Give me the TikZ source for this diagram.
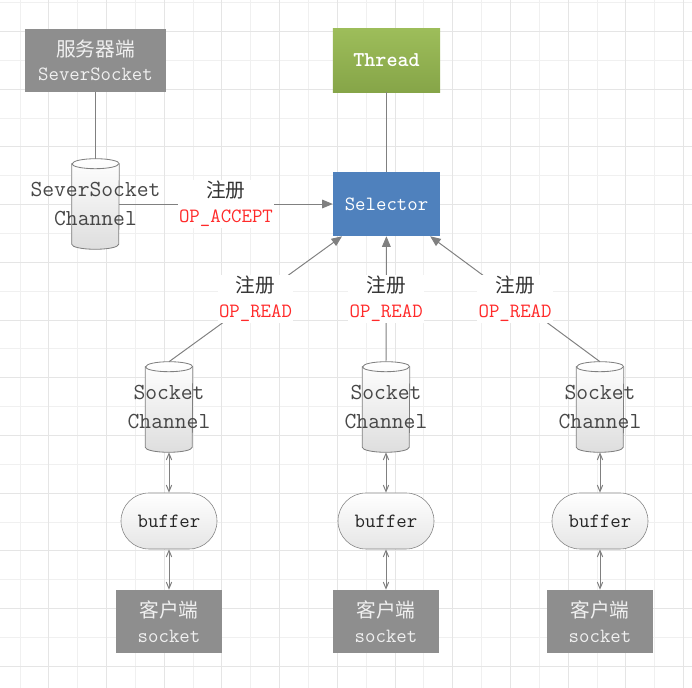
\documentclass[tikz,border=0pt]{standalone}
\usepackage{fontspec}
\newfontfamily\cjk{Noto Sans CJK SC}
\newfontfamily\ttbold{lmmonolt10-bold.otf}
\usetikzlibrary{shapes.geometric, arrows, positioning, calc}
\definecolor{boxgray}{HTML}{8E8E8E}
\definecolor{boxtext}{HTML}{F0F0F0}
\definecolor{linegray}{HTML}{808080}
\definecolor{threadtop}{HTML}{9DBD5A}
\definecolor{threadbot}{HTML}{86A548}
\definecolor{selblue}{HTML}{4F81BD}
\definecolor{opred}{HTML}{FF2A2A}
\begin{document}
\begin{tikzpicture}[x=0.025cm, y=-0.025cm,
  font=\ttfamily\fontsize{14.4}{17.5}\selectfont,
  gridminor/.style={draw=black!6, line width=0.7pt},
  gridmajor/.style={draw=black!10, line width=0.7pt},
  graybox/.style={rectangle, fill=boxgray, text=boxtext, minimum width=2.65cm, minimum height=1.575cm, align=center},
  chan/.style={rectangle, minimum width=1.175cm, minimum height=2cm, inner sep=0pt},
  cylbody/.style={draw=linegray, line width=0.6pt, top color=white, bottom color=black!13},
  cyltext/.style={text=black!72, align=center, font=\ttfamily\fontsize{16.3}{20}\selectfont},
  bufbox/.style={rectangle, rounded corners=0.7cm, draw=linegray, top color=white, bottom color=black!10, minimum width=2.4cm, minimum height=1.4cm, text=black!85},
  reg/.style={fill=white, inner sep=1pt, align=center, text=black!80},
  flow/.style={draw=linegray, line width=0.7pt, -triangle 45},
  link/.style={draw=linegray, line width=0.7pt, angle 45-angle 45},
  plain/.style={draw=linegray, line width=0.7pt}]
\useasboundingbox (0,0) rectangle (692,688);
% background grid
\foreach \i in {0,...,23} {
  \draw[gridminor] ({20+28.85*\i},0) -- ({20+28.85*\i},688);
  \draw[gridminor] (0,{2.7+28.85*\i}) -- (692,{2.7+28.85*\i});
}
\foreach \i in {1,3,...,23} {
  \draw[gridmajor] ({20+28.85*\i},0) -- ({20+28.85*\i},688);
  \draw[gridmajor] (0,{2.7+28.85*\i}) -- (692,{2.7+28.85*\i});
}

% channel nodes (cylinders drawn below)
\node[chan] (ssc) at (95.5,204) {};
\foreach \n/\x in {1/169, 2/386, 3/600}
  \node[chan] (sc\n) at (\x,407) {};
\foreach \c in {ssc, sc1, sc2, sc3} {
  \draw[cylbody] (\c.north west) -- (\c.south west) arc[start angle=180, end angle=360, x radius=0.5875cm, y radius=0.125cm]
    -- (\c.north east) arc[start angle=0, end angle=180, x radius=0.5875cm, y radius=0.125cm] -- cycle;
  \draw[draw=linegray, line width=0.6pt] (\c.north west) arc[start angle=180, end angle=360, x radius=0.5875cm, y radius=0.125cm];
}

% server side
\node[graybox, minimum width=3.525cm] (server) at (95.5,60.5) {{\cjk\fontsize{14}{17.5}\selectfont 服务器端}\\SeverSocket};
\node[cyltext] (ssctext) at (ssc) {SeverSocket\\Channel};

% selector and thread
\node[rectangle, top color=threadtop, bottom color=threadbot, text=white, minimum width=2.675cm, minimum height=1.575cm, font=\ttbold\fontsize{15}{17.5}\selectfont] (thread) at (386.5,60.5) {Thread};
\node[rectangle, fill=selblue, text=white, minimum width=2.675cm, minimum height=1.6cm] (sel) at (386.5,204) {Selector};

\draw[plain] (server) -- ([yshift=0.125cm]ssc.north);
\draw[plain] (thread) -- (sel);
\draw[flow] (ssc) -- node[reg] {{\cjk\fontsize{14}{17.5}\selectfont 注册}\\{\color{opred}OP\_ACCEPT}} (sel);

% client side
\foreach \n/\x in {1/169, 2/386, 3/600} {
  \node[cyltext] (sctext\n) at (sc\n) {Socket\\Channel};
  \node[bufbox] (buf\n) at (\x,521) {buffer};
  \node[graybox] (client\n) at (\x,621.5) {{\cjk\fontsize{14}{17.5}\selectfont 客户端}\\socket};
  \draw[flow] ([yshift=0.125cm]sc\n.north) -- node[reg] {{\cjk\fontsize{14}{17.5}\selectfont 注册}\\{\color{opred}OP\_READ}} (sel);
  \draw[link] ([yshift=-0.125cm]sc\n.south) -- (buf\n);
  \draw[link] (buf\n) -- (client\n);
}
\end{tikzpicture}
\end{document}
